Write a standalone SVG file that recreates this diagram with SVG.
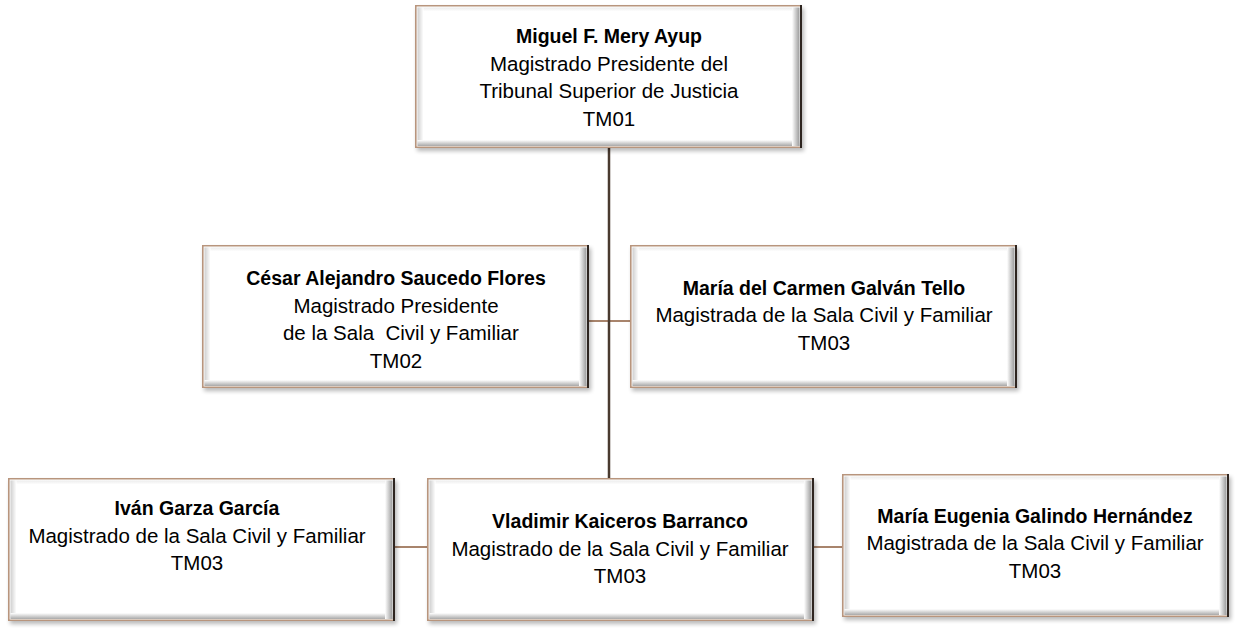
<svg xmlns="http://www.w3.org/2000/svg" xmlns:xlink="http://www.w3.org/1999/xlink" width="1239" height="634" viewBox="0 0 1239 634">
<style>
text{font-family:"Liberation Sans",Arial,sans-serif;font-size:20.5px;fill:#000;text-anchor:middle;white-space:pre}
.b{font-weight:bold;font-size:19.5px}
.v{stroke:#4a3a2f;stroke-width:2.5;fill:none}
.h{stroke:#a8846c;stroke-width:2;fill:none}
</style>
<defs>
<filter id="sh" x="-10%" y="-10%" width="120%" height="130%"><feGaussianBlur stdDeviation="2"/></filter>
<linearGradient id="gl" x1="0" y1="0" x2="1" y2="0"><stop offset="0" stop-color="#cfcfcf"/><stop offset="1" stop-color="#fff"/></linearGradient>
<linearGradient id="gr" x1="0" y1="0" x2="1" y2="0"><stop offset="0" stop-color="#fff"/><stop offset="1" stop-color="#9a9a9a"/></linearGradient>
<linearGradient id="gb" x1="0" y1="0" x2="0" y2="1"><stop offset="0" stop-color="#fff"/><stop offset="1" stop-color="#a8a8a8"/></linearGradient>
<linearGradient id="gt" x1="0" y1="0" x2="0" y2="1"><stop offset="0" stop-color="#ececec"/><stop offset="1" stop-color="#fff"/></linearGradient>
<symbol id="box" overflow="visible">
<rect x="2" y="3" width="387" height="143" fill="#000" opacity="0.28" filter="url(#sh)"/>
<rect x="0" y="0" width="387" height="143" fill="#fff"/>
<rect x="2.5" y="2.5" width="380" height="4" fill="url(#gt)"/>
<rect x="2.5" y="2.5" width="6" height="138" fill="url(#gl)"/>
<rect x="2.5" y="135" width="382" height="6" fill="url(#gb)"/>
<rect x="377" y="2.5" width="7.5" height="138.5" fill="url(#gr)"/>
<path d="M0.8,143 V0.8 H386" fill="none" stroke="#b8957d" stroke-width="1.6"/>
<path d="M0.8,142.2 H386" fill="none" stroke="#b8957d" stroke-width="1.6"/>
<path d="M386,0 V143" fill="none" stroke="#2e2520" stroke-width="2"/>
</symbol>
</defs>
<rect width="1239" height="634" fill="#fff"/>
<g id="connectors">
<path class="h" d="M589,321 H630"/>
<path class="h" d="M395,547 H427"/>
<path class="h" d="M814,547 H842"/>
<path class="v" d="M609,148 V478"/>
</g>
<g id="n1">
<use xlink:href="#box" x="415" y="5"/>
<text class="b" x="609" y="43">Miguel F. Mery Ayup</text>
<text x="609" y="70.5">Magistrado Presidente del</text>
<text x="609" y="98">Tribunal Superior de Justicia</text>
<text x="609" y="125.5">TM01</text>
</g>
<g id="n2">
<use xlink:href="#box" x="202" y="245"/>
<text class="b" x="396" y="285">César Alejandro Saucedo Flores</text>
<text x="396" y="313">Magistrado Presidente</text>
<text x="398" y="340"> de la Sala  Civil y Familiar</text>
<text x="396" y="367.5">TM02</text>
</g>
<g id="n3">
<use xlink:href="#box" x="630" y="245"/>
<text class="b" x="824" y="295">María del Carmen Galván Tello</text>
<text x="824" y="322">Magistrada de la Sala Civil y Familiar</text>
<text x="824" y="349.5">TM03</text>
</g>
<g id="n4">
<use xlink:href="#box" x="8" y="478"/>
<text class="b" x="197" y="515">Iván Garza García</text>
<text x="197" y="543">Magistrado de la Sala Civil y Familiar</text>
<text x="197" y="570">TM03</text>
</g>
<g id="n5">
<use xlink:href="#box" x="427" y="478"/>
<text class="b" x="620" y="528">Vladimir Kaiceros Barranco</text>
<text x="620" y="556">Magistrado de la Sala Civil y Familiar</text>
<text x="620" y="583">TM03</text>
</g>
<g id="n6">
<use xlink:href="#box" x="842" y="474"/>
<text class="b" x="1035" y="523">María Eugenia Galindo Hernández</text>
<text x="1035" y="550">Magistrada de la Sala Civil y Familiar</text>
<text x="1035" y="578">TM03</text>
</g>
</svg>
